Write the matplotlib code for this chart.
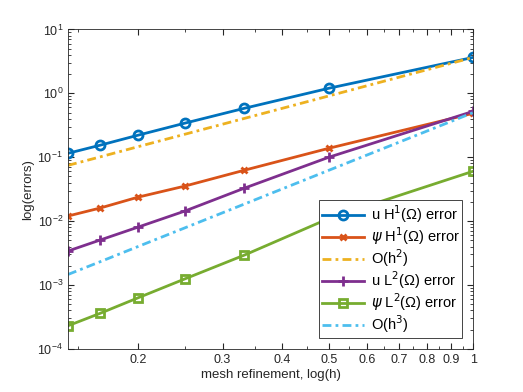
import matplotlib.pyplot as plt
from matplotlib.ticker import FixedLocator, FixedFormatter, LogLocator, NullFormatter

plt.rcParams['font.family'] = ['Liberation Sans', 'DejaVu Sans']
plt.rcParams['mathtext.fontset'] = 'dejavusans'

# mesh sizes
h = [1/7, 1/6, 1/5, 1/4, 1/3, 1/2, 1.0]

# errors
u_H1 = [0.115, 0.154, 0.221, 0.34, 0.583, 1.20, 3.65]
psi_H1 = [0.012, 0.016, 0.0237, 0.0352, 0.0626, 0.138, 0.487]
ref_h2 = [0.0745, 0.101, 0.146, 0.228, 0.405, 0.91, 3.65]
u_L2 = [0.0034, 0.00505, 0.00805, 0.0143, 0.0328, 0.100, 0.523]
psi_L2 = [0.00023, 0.00036, 0.00063, 0.00124, 0.00294, 0.011, 0.0604]
ref_h3 = [0.00146, 0.00231, 0.004, 0.0078, 0.0185, 0.0625, 0.50]

fig = plt.figure(figsize=(5.23, 3.92), dpi=100)
ax = fig.add_axes([0.13, 0.11, 0.775, 0.815])

lw = 2
dd = (3.2, 1.5, 1, 1.5)
ax.loglog(h, u_H1, '-o', color='#0072BD', lw=lw, ms=6.5, mfc='none', mew=2,
          label='u H$^1$(Ω) error')
ax.loglog(h, psi_H1, '-x', color='#D95319', lw=lw, ms=5, mew=2,
          label=r'$\psi$ H$^1$(Ω) error')
ax.loglog(h, ref_h2, '-.', dashes=dd, color='#EDB120', lw=lw, label='O(h$^2$)')
ax.loglog(h, u_L2, '-+', color='#7E2F8E', lw=lw, ms=7, mew=2,
          label='u L$^2$(Ω) error')
ax.loglog(h, psi_L2, '-s', color='#77AC30', lw=lw, ms=5.5, mfc='none', mew=2,
          label=r'$\psi$ L$^2$(Ω) error')
ax.loglog(h, ref_h3, '-.', dashes=dd, color='#4DBEEE', lw=lw, label='O(h$^3$)')

ax.set_xlim(1/7, 1)
ax.set_ylim(1e-4, 10)

xt = [0.2, 0.3, 0.4, 0.5, 0.6, 0.7, 0.8, 0.9, 1.0]
ax.xaxis.set_major_locator(FixedLocator(xt))
ax.xaxis.set_major_formatter(FixedFormatter(['0.2', '0.3', '0.4', '0.5', '0.6', '0.7', '0.8', '0.9', '1']))
ax.xaxis.set_minor_locator(FixedLocator([0.15, 0.25, 0.35, 0.45, 0.55, 0.65, 0.75, 0.85, 0.95]))
ax.xaxis.set_minor_formatter(NullFormatter())
ax.yaxis.set_major_locator(LogLocator(base=10, numticks=10))
ax.yaxis.set_minor_locator(LogLocator(base=10, subs=range(2, 10), numticks=20))
ax.yaxis.set_minor_formatter(NullFormatter())

ax.tick_params(which='both', direction='in', top=True, right=True,
               colors='#262626', labelsize=9)
ax.tick_params(which='major', length=4)
ax.tick_params(which='minor', length=2)
for s in ax.spines.values():
    s.set_color('#262626')
    s.set_linewidth(0.6)

ax.set_xlabel('mesh refinement, log(h)', fontsize=9.5, color='#262626', labelpad=2)
ax.set_ylabel('log(errors)', fontsize=9.5, color='#262626', labelpad=2)

leg = ax.legend(loc='lower right', fontsize=10.5, fancybox=False, framealpha=1,
                edgecolor='#262626', borderpad=0.2, labelspacing=0.02,
                handlelength=2.9, handletextpad=0.45, borderaxespad=0.75)
leg.get_frame().set_linewidth(0.6)

fig.savefig('out.png', dpi=100)
